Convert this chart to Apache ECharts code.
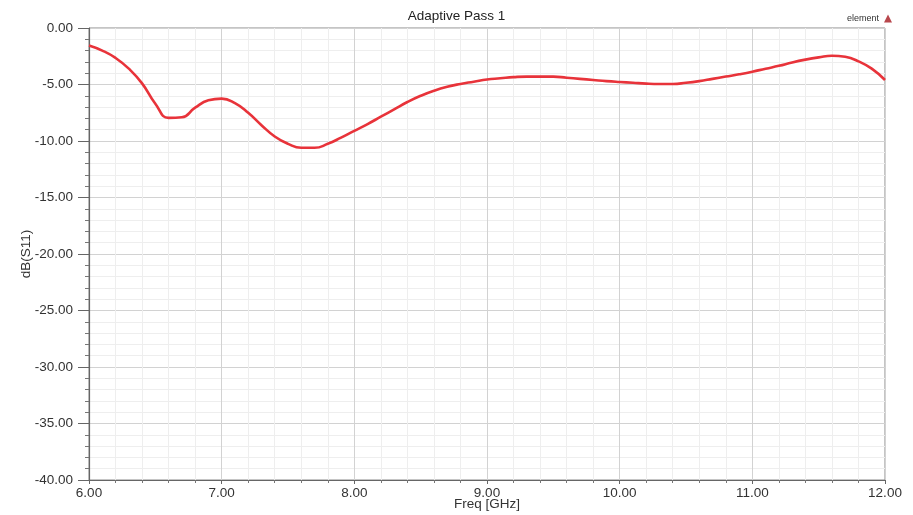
<!DOCTYPE html>
<html>
<head>
<meta charset="utf-8">
<script src="https://cdn.jsdelivr.net/npm/echarts@6/dist/echarts.min.js"></script>
<style>
  html, body { margin: 0; padding: 0; background: #ffffff; }
  #chart { width: 913px; height: 515px; }
</style>
</head>
<body>
<div id="chart"></div>
<script>
// Return loss sweep, 6–12 GHz
const freqGHz = [
  6.0, 6.1, 6.2, 6.3, 6.4, 6.5, 6.6, 6.7, 6.8, 6.9,
  7.0, 7.1, 7.2, 7.3, 7.4, 7.5, 7.6, 7.7, 7.8, 7.9,
  8.0, 8.1, 8.2, 8.3, 8.4, 8.5, 8.6, 8.7, 8.8, 8.9,
  9.0, 9.1, 9.2, 9.3, 9.4, 9.5, 9.6, 9.7, 9.8, 9.9,
  10.0, 10.1, 10.2, 10.3, 10.4, 10.5, 10.6, 10.7, 10.8, 10.9,
  11.0, 11.1, 11.2, 11.3, 11.4, 11.5, 11.6, 11.7, 11.8, 11.9,
  12.0
];
const s11dB = [
  -1.55, -2.0, -2.65, -3.6, -4.9, -6.7, -7.95, -7.9, -7.05, -6.4,
  -6.25, -6.65, -7.5, -8.6, -9.6, -10.25, -10.6, -10.6, -10.25, -9.7,
  -9.1, -8.5, -7.85, -7.2, -6.55, -6.0, -5.55, -5.2, -4.95, -4.75,
  -4.55, -4.45, -4.35, -4.3, -4.3, -4.3, -4.4, -4.5, -4.6, -4.7,
  -4.78, -4.85, -4.92, -4.95, -4.95, -4.85, -4.7, -4.5, -4.3, -4.1,
  -3.87, -3.6, -3.35, -3.05, -2.8, -2.6, -2.45, -2.55, -2.95, -3.6,
  -4.6
];
const plotTitle = 'Adaptive Pass 1';
const seriesName = 'element';
const xAxisTitle = 'Freq [GHz]';
const yAxisTitle = 'dB(S11)';

const points = freqGHz.map((f, i) => [f, s11dB[i]]);
const fontFamily = '"Liberation Sans", Arial, sans-serif';

const chart = echarts.init(document.getElementById('chart'), null, { renderer: 'canvas' });
chart.setOption({
  backgroundColor: '#ffffff',
  animation: false,
  title: {
    text: plotTitle,
    left: 'center',
    top: 4,
    textStyle: { fontFamily, fontSize: 13.5, fontWeight: 'normal', color: '#222' }
  },
  legend: {
    data: [{ name: seriesName, icon: 'triangle', itemStyle: { color: '#b8474c' } }],
    right: 16,
    top: 9,
    align: 'right',
    itemWidth: 8,
    itemHeight: 8,
    itemGap: 4,
    textStyle: { fontFamily, fontSize: 9, color: '#333' }
  },
  grid: {
    left: 89, right: 28, top: 28, bottom: 35,
    outerBoundsMode: 'none',
    containLabel: false,
    show: true,
    borderColor: '#8a8a8a',
    borderWidth: 1,
    backgroundColor: '#ffffff'
  },
  xAxis: {
    type: 'value',
    min: 6, max: 12, interval: 1,
    name: xAxisTitle,
    nameLocation: 'middle',
    nameGap: 17,
    nameMoveOverlap: false,
    nameTextStyle: { fontFamily, fontSize: 13.5, color: '#333' },
    axisLine: { show: true, onZero: false, lineStyle: { color: '#666', width: 1.2 } },
    axisTick: { show: true, length: 4, lineStyle: { color: '#666' } },
    minorTick: { show: true, splitNumber: 5, length: 3, lineStyle: { color: '#777' } },
    axisLabel: {
      margin: 6,
      fontFamily, fontSize: 13.5, color: '#333',
      formatter: v => v.toFixed(2)
    },
    splitLine: { show: true, lineStyle: { color: '#d2d2d2', width: 1 } },
    minorSplitLine: { show: true, lineStyle: { color: '#eeeeee', width: 1 } }
  },
  yAxis: {
    type: 'value',
    min: -40, max: 0, interval: 5,
    name: yAxisTitle,
    nameLocation: 'middle',
    nameGap: 56,
    nameRotate: 90,
    nameMoveOverlap: false,
    nameTextStyle: { fontFamily, fontSize: 13.5, color: '#333' },
    axisLine: { show: true, onZero: false, lineStyle: { color: '#666', width: 1.2 } },
    axisTick: { show: true, length: 11, lineStyle: { color: '#666' } },
    minorTick: { show: true, splitNumber: 5, length: 4, lineStyle: { color: '#777' } },
    axisLabel: {
      margin: 16,
      fontFamily, fontSize: 13.5, color: '#333',
      formatter: v => v.toFixed(2)
    },
    splitLine: { show: true, lineStyle: { color: '#d2d2d2', width: 1 } },
    minorSplitLine: { show: true, lineStyle: { color: '#eeeeee', width: 1 } }
  },
  series: [{
    name: seriesName,
    type: 'line',
    data: points,
    smooth: 0.5,
    showSymbol: false,
    symbol: 'none',
    color: '#e8333a',
    lineStyle: { color: '#e8333a', width: 2.6 }
  }]
});
</script>
</body>
</html>
